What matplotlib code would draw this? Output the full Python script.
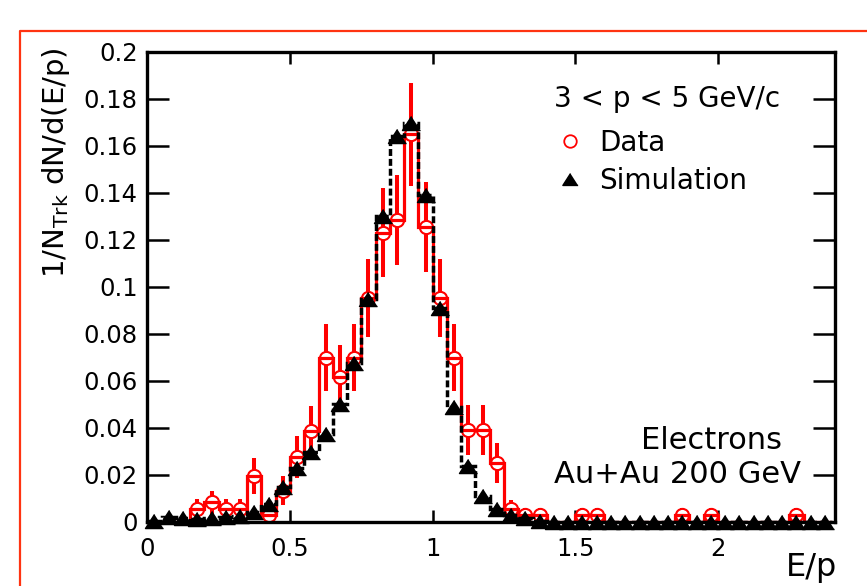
import numpy as np
import matplotlib
matplotlib.use("Agg")
import matplotlib.pyplot as plt
from matplotlib.lines import Line2D

plt.rcParams['font.family'] = ['DejaVu Sans']
plt.rcParams['mathtext.default'] = 'regular'

# ---------------- data ----------------
bin_edges = np.linspace(0.0, 2.4, 49)          # 48 bins of width 0.05 in E/p
bin_centers = 0.5 * (bin_edges[:-1] + bin_edges[1:])

data_values = [0, 0, 0, 0.0055, 0.0083, 0.0055, 0.0055, 0.0195, 0.0029, 0.0132,
               0.0274, 0.0387, 0.0698, 0.0617, 0.0698, 0.095, 0.123, 0.1284, 0.1649, 0.1255,
               0.095, 0.0698, 0.039, 0.039, 0.0251, 0.0053, 0.0029, 0.0029, 0, 0,
               0.0029, 0.0029, 0, 0, 0, 0, 0, 0.0029, 0, 0.0029,
               0, 0, 0, 0, 0, 0.0029, 0, 0]
data_errors = [0, 0, 0, 0.004, 0.0049, 0.004, 0.004, 0.0075, 0.0029, 0.0062,
               0.0089, 0.0106, 0.0142, 0.0134, 0.0142, 0.0166, 0.0189, 0.0193, 0.0219, 0.0191,
               0.0166, 0.0142, 0.0106, 0.0106, 0.0085, 0.0039, 0.0029, 0.0029, 0, 0,
               0.0029, 0.0029, 0, 0, 0, 0, 0, 0.0029, 0, 0.0029,
               0, 0, 0, 0, 0, 0.0029, 0, 0]
sim_values = [0.0003, 0.0019, 0.0014, 0.0013, 0.0017, 0.002, 0.0024, 0.0043, 0.0075, 0.0146,
              0.023, 0.0295, 0.0373, 0.050, 0.0674, 0.0948, 0.130, 0.164, 0.1695, 0.139,
              0.091, 0.049, 0.0238, 0.011, 0.0053, 0.0029, 0.0014, 0.0004, 0, 0,
              0, 0, 0, 0, 0, 0, 0, 0, 0, 0,
              0, 0, 0, 0, 0, 0, 0, 0]

x_ticks = [0, 0.5, 1, 1.5, 2]
x_tick_labels = ["0", "0.5", "1", "1.5", "2"]
y_ticks = [0, 0.02, 0.04, 0.06, 0.08, 0.1, 0.12, 0.14, 0.16, 0.18, 0.2]
y_tick_labels = ["0", "0.02", "0.04", "0.06", "0.08", "0.1", "0.12", "0.14", "0.16", "0.18", "0.2"]

legend_header = "3 < p < 5 GeV/c"
label_data = "Data"
label_sim = "Simulation"
note_lines = ["Electrons", "Au+Au 200 GeV"]

# ---------------- figure ----------------
W, H = 867, 586
fig = plt.figure(figsize=(W / 100, H / 100), dpi=100)
fig.patch.set_facecolor('white')

# red frame around the pad (clipped at right/bottom)
fig.add_artist(Line2D([20 / W, 20 / W, 1.0], [0.0, 1 - 30.5 / H, 1 - 30.5 / H],
                      transform=fig.transFigure, color='#ff3311', lw=1.6))

L, R, T, B = 147.3, 835.0, 51.7, 521.7
ax = fig.add_axes([L / W, 1 - B / H, (R - L) / W, (B - T) / H])
ax.set_xlim(0, 2.41)
ax.set_ylim(0, 0.2)

red = '#ff0000'
tri = [(0, 0.78), (-1, -0.78), (1, -0.78)]

# error bars
nz = [i for i, v in enumerate(data_values) if v > 0]
ax.errorbar([bin_centers[i] for i in nz], [data_values[i] for i in nz],
            yerr=[data_errors[i] for i in nz], fmt='none', ecolor=red,
            elinewidth=2.9, capsize=0, zorder=3)
# data markers (open circles)
ax.plot([bin_centers[i] for i in nz], [data_values[i] for i in nz], linestyle='none',
        marker='o', markersize=9.5, markerfacecolor='white', markeredgecolor=red,
        markeredgewidth=1.5, zorder=4)
# data histogram
ax.stairs(data_values, bin_edges, color=red, lw=2.3, zorder=5)
# simulation histogram
ax.stairs(sim_values, bin_edges, color='black', lw=2.5, linestyle=(0, (2.0, 0.85)), zorder=6)
# simulation markers
ax.plot(bin_centers, sim_values, linestyle='none', marker=tri, markersize=13,
        color='black', zorder=7, clip_on=False)

for s in ax.spines.values():
    s.set_linewidth(2.4)
    s.set_zorder(5.5)

ax.set_xticks(x_ticks)
ax.set_xticklabels(x_tick_labels)
ax.set_yticks(y_ticks)
ax.set_yticklabels(y_tick_labels)
ax.tick_params(axis='x', which='major', direction='in', top=True, bottom=True,
               length=8.6, width=1.8, pad=11, labelsize=17.5)
ax.tick_params(axis='y', which='major', direction='in', left=True, right=True,
               length=15.6, width=1.8, pad=7, labelsize=17.5)
ax.minorticks_off()

# axis titles
fig.text(837 / W, 1 - 576 / H, "E/p", ha='right', va='baseline', fontsize=23)
fig.text(56 / W, 1 - 47 / H, "1/N$_{Trk}$ dN/d(E/p)", rotation=90,
         ha='center', va='top', fontsize=21)

# legend
fig.text(667 / W, 1 - 107 / H, legend_header, ha='center', va='baseline', fontsize=20)
h_data = Line2D([], [], linestyle='none', marker='o', markersize=9,
                markerfacecolor='white', markeredgecolor=red, markeredgewidth=1.3)
h_sim = Line2D([], [], linestyle='none', marker=tri, markersize=11, color='black')
leg = ax.legend([h_data, h_sim], [label_data, label_sim], loc='upper left',
                bbox_to_anchor=(556 / W, 1 - 129 / H), bbox_transform=fig.transFigure,
                frameon=False, fontsize=20, handlelength=1.0, handletextpad=0.55,
                borderpad=0, borderaxespad=0, labelspacing=0.36)

# annotation
fig.text(712 / W, 1 - 449.3 / H, note_lines[0], ha='center', va='baseline', fontsize=22)
fig.text(678 / W, 1 - 483.3 / H, note_lines[1], ha='center', va='baseline', fontsize=22)

fig.savefig("out.png", dpi=100, facecolor='white')
